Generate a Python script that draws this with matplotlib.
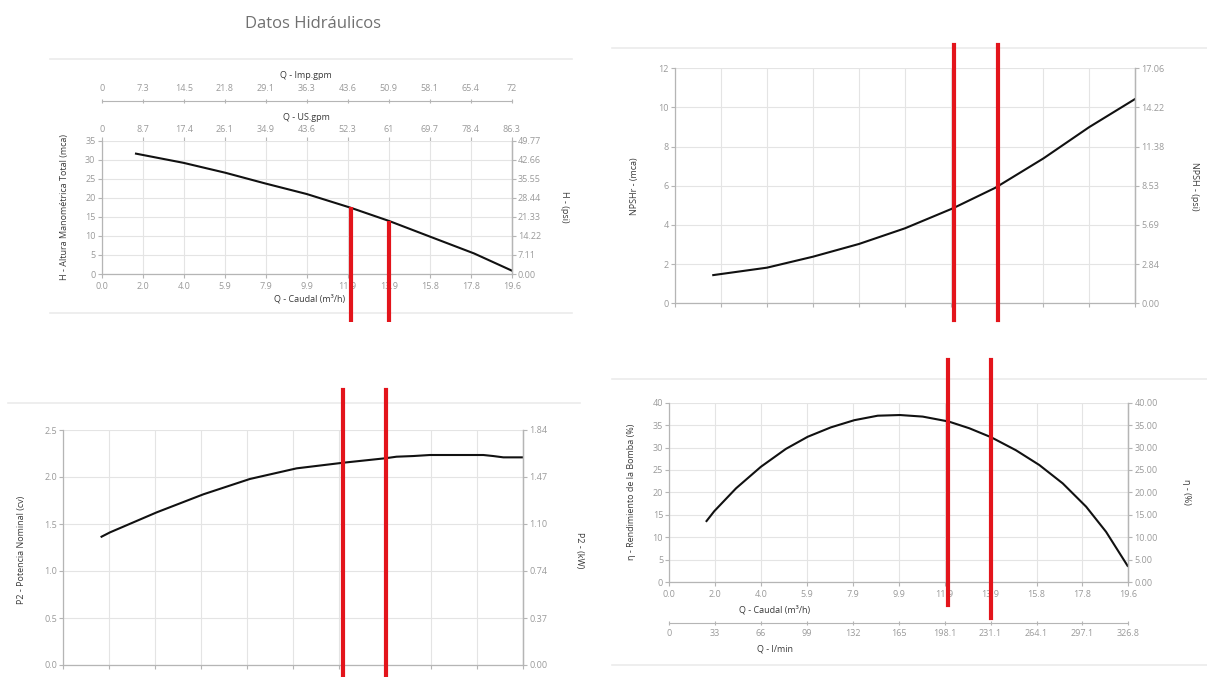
import matplotlib
matplotlib.use('Agg')
import matplotlib.pyplot as plt

plt.rcParams['font.family'] = ['Open Sans', 'DejaVu Sans']

W, H = 1207, 677

# flow axis (m3/h) shared by the four charts
q_ticks = [0.0, 1.96, 3.92, 5.88, 7.84, 9.8, 11.76, 13.72, 15.68, 17.64, 19.6]
q_labels = ['0.0', '2.0', '4.0', '5.9', '7.9', '9.9', '11.9', '13.9', '15.8', '17.8', '19.6']
usgpm_labels = ['0', '8.7', '17.4', '26.1', '34.9', '43.6', '52.3', '61', '69.7', '78.4', '86.3']
impgpm_labels = ['0', '7.3', '14.5', '21.8', '29.1', '36.3', '43.6', '50.9', '58.1', '65.4', '72']
lmin_labels = ['0', '33', '66', '99', '132', '165', '198.1', '231.1', '264.1', '297.1', '326.8']

# duty points (red lines)
duty_q = [11.9, 13.75]
duty_head = [17.5, 14.0]

# H curve
head_q = [1.64, 3.9, 5.9, 7.8, 9.8, 11.9, 13.75, 15.7, 17.8, 19.6]
head_h = [31.6, 29.2, 26.6, 23.8, 21.0, 17.4, 13.9, 9.8, 5.4, 0.9]
head_ticks = [0, 5, 10, 15, 20, 25, 30, 35]
head_psi = ['0.00', '7.11', '14.22', '21.33', '28.44', '35.55', '42.66', '49.77']

# NPSHr curve
npsh_q = [1.63, 3.92, 5.88, 7.84, 9.8, 11.84, 13.65, 15.7, 17.64, 19.6]
npsh_h = [1.44, 1.82, 2.38, 3.03, 3.83, 4.85, 5.9, 7.4, 8.99, 10.43]
npsh_ticks = [0, 2, 4, 6, 8, 10, 12]
npsh_psi = ['0.00', '2.84', '5.69', '8.53', '11.38', '14.22', '17.06']

# P2 curve
p2_q = [1.63, 1.99, 3.98, 5.97, 7.95, 9.94, 11.93, 13.71, 14.2, 14.91, 15.62,
        16.9, 17.9, 18.32, 18.75, 19.6]
p2_cv = [1.365, 1.411, 1.624, 1.816, 1.979, 2.092, 2.152, 2.199, 2.216, 2.223, 2.234,
         2.234, 2.234, 2.223, 2.209, 2.209]
p2_ticks = [0.0, 0.5, 1.0, 1.5, 2.0, 2.5]
p2_kw = ['0.00', '0.37', '0.74', '1.10', '1.47', '1.84']

# efficiency curve
eta_q = [1.59, 1.92, 2.85, 3.91, 4.98, 5.91, 6.9, 7.9, 8.9, 9.85, 10.82, 11.93,
         12.81, 13.74, 14.8, 15.8, 16.8, 17.8, 18.65, 19.57]
eta_pct = [13.6, 15.8, 20.9, 25.7, 29.7, 32.4, 34.5, 36.1, 37.1, 37.25, 36.9, 35.8,
           34.3, 32.3, 29.4, 26.1, 22.0, 16.8, 11.2, 3.6]
eta_ticks = [0, 5, 10, 15, 20, 25, 30, 35, 40]
eta_right = ['0.00', '5.00', '10.00', '15.00', '20.00', '25.00', '30.00', '35.00', '40.00']

axis_col = '#b5b5b5'
tick_col = '#9a9a9a'
title_col = '#3a3a3a'
red = '#e3141b'
fs = 6.5

fig = plt.figure(figsize=(W / 100, H / 100), dpi=100)


def txt(x, y, s, **kw):
    kw.setdefault('fontsize', fs)
    kw.setdefault('color', title_col)
    kw.setdefault('ha', 'center')
    kw.setdefault('va', 'center')
    fig.text(x / W, 1 - y / H, s, **kw)


def hline(x0, x1, y):
    fig.add_artist(plt.Line2D([x0 / W, x1 / W], [1 - y / H, 1 - y / H],
                              color='#ebebeb', lw=1.2, zorder=-5))


def panel(box, ylim, yticks, right_labels, xlabels=True):
    l, t, r, b = box
    ax = fig.add_axes([l / W, 1 - b / H, (r - l) / W, (b - t) / H])
    ax.set_xlim(0, 19.6)
    ax.set_ylim(*ylim)
    ax.set_xticks(q_ticks)
    ax.set_xticklabels(q_labels)
    ax.set_yticks(yticks)
    ax.grid(color='#e4e4e4', lw=0.8)
    ax.set_axisbelow(True)
    ax.patch.set_alpha(0)
    ax.spines['top'].set_visible(False)
    for s in ['left', 'bottom', 'right']:
        ax.spines[s].set_color(axis_col)
        ax.spines[s].set_linewidth(0.9)
    ax.tick_params(colors=axis_col, labelcolor=tick_col, labelsize=fs,
                   length=3, width=0.8, pad=1.5)
    ax.tick_params(axis='x', pad=3, labelbottom=xlabels)
    ax2 = ax.twinx()
    ax2.set_ylim(*ylim)
    ax2.set_yticks(yticks)
    ax2.set_yticklabels(right_labels)
    for s in ['left', 'bottom', 'top']:
        ax2.spines[s].set_visible(False)
    ax2.spines['right'].set_color(axis_col)
    ax2.spines['right'].set_linewidth(0.9)
    ax2.tick_params(colors=axis_col, labelcolor=tick_col, labelsize=fs,
                    length=3, width=0.8, pad=1.5)
    return ax


txt(313, 24, 'Datos Hidráulicos', fontsize=12, color='#707070')

# faint panel borders
hline(50, 572, 59)
hline(50, 572, 313)
hline(612, 1207, 48)
hline(8, 580, 403)
hline(612, 1207, 379)
hline(612, 1207, 665)

# --- H curve ---
ax = panel((101.7, 140.7, 511.7, 274), (0, 35), head_ticks, head_psi)
ax.set_yticklabels([str(v) for v in head_ticks])
ax.plot(head_q, head_h, color='#111111', lw=1.5)
sec = ax.secondary_xaxis('top')
sec.set_xticks(q_ticks)
sec.set_xticklabels(usgpm_labels)
sec.spines['top'].set_visible(False)
sec.tick_params(colors=axis_col, labelcolor=tick_col, labelsize=fs, length=3, pad=1.5)
imp = ax.secondary_xaxis(1.30)
imp.set_xticks(q_ticks)
imp.set_xticklabels(impgpm_labels)
imp.spines['top'].set_color(axis_col)
imp.tick_params(colors=axis_col, labelcolor=tick_col, labelsize=fs, length=3,
                pad=4, direction='inout')
for q, h in zip(duty_q, duty_head):
    ax.plot([q, q], [-12.6, h], color=red, lw=3, clip_on=False, zorder=6,
            solid_capstyle='butt')
txt(306, 75, 'Q - Imp.gpm')
txt(306, 117, 'Q - US.gpm')
txt(310, 299, 'Q - Caudal (m³/h)')
txt(65, 207, 'H - Altura Manométrica Total (mca)', rotation=90)
txt(565, 207, 'H - (psi)', rotation=-90)

# --- NPSHr curve ---
ax = panel((675, 68.3, 1135, 303.3), (0, 12), npsh_ticks, npsh_psi, xlabels=False)
ax.set_yticklabels([str(v) for v in npsh_ticks])
ax.plot(npsh_q, npsh_h, color='#111111', lw=1.5)
for q in duty_q:
    ax.axvline(q, -0.071, 1.099, color=red, lw=3, clip_on=False, zorder=6)
txt(635, 186, 'NPSHr - (mca)', rotation=90)
txt(1194, 186, 'NPSH - (psi)', rotation=-90)

# --- P2 curve ---
ax = panel((63.3, 430, 523.3, 665), (0, 2.5), p2_ticks, p2_kw, xlabels=False)
ax.set_yticklabels([f'{v:.1f}' for v in p2_ticks])
ax.plot(p2_q, p2_cv, color='#111111', lw=1.5)
for q in duty_q:
    ax.axvline(q, -0.2, 1.17, color=red, lw=3, clip_on=False, zorder=6)
txt(22, 550, 'P2 - Potencia Nominal (cv)', rotation=90)
txt(580, 550, 'P2 - (kW)', rotation=-90)

# --- efficiency curve ---
ax = panel((669.3, 402.7, 1128.3, 582), (0, 40), eta_ticks, eta_right)
ax.set_yticklabels([str(v) for v in eta_ticks])
ax.plot(eta_q, eta_pct, color='#111111', lw=1.5)
lm = ax.secondary_xaxis(-0.23)
lm.set_xticks(q_ticks)
lm.set_xticklabels(lmin_labels)
lm.spines['bottom'].set_color(axis_col)
lm.tick_params(colors=axis_col, labelcolor=tick_col, labelsize=fs, length=3,
               pad=3, direction='inout')
for q, lo in zip(duty_q, [-0.128, -0.2]):
    ax.axvline(q, lo, 1.238, color=red, lw=3, clip_on=False, zorder=6)
txt(775, 610, 'Q - Caudal (m³/h)')
txt(775, 649, 'Q - l/min')
txt(632, 492, 'η - Rendimiento de la Bomba (%)', rotation=90)
txt(1186, 492, 'η - (%)', rotation=-90)

fig.savefig('out.png', dpi=100)
